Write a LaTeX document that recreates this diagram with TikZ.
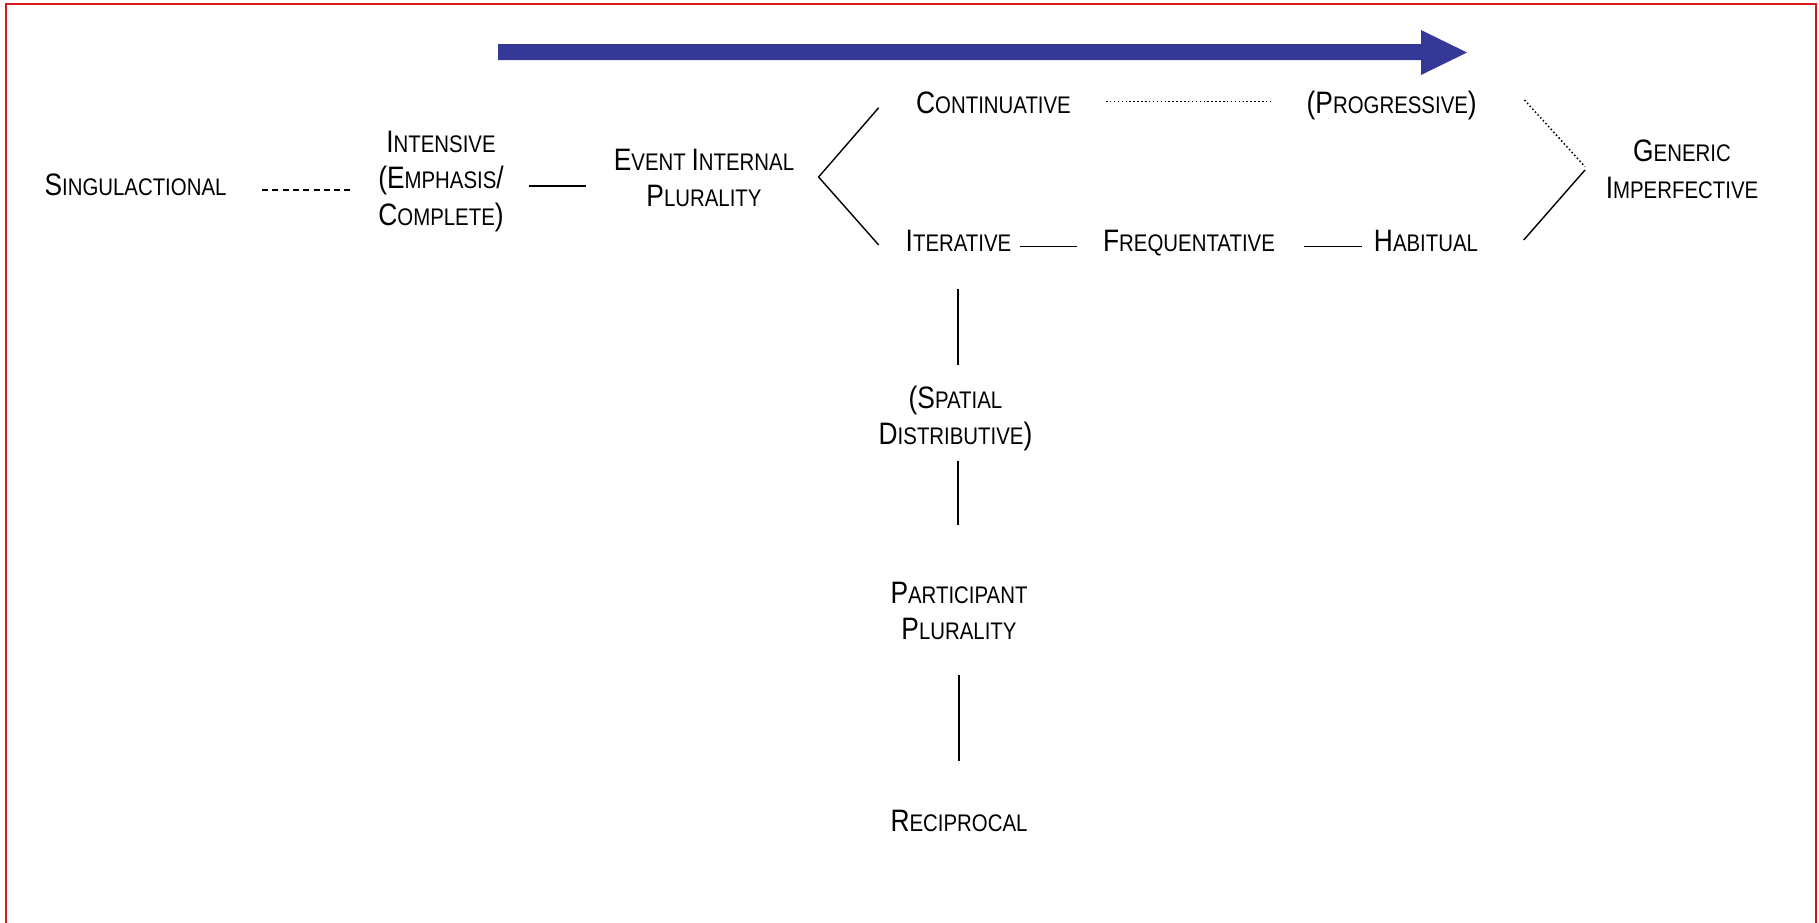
\documentclass[tikz,border=0pt]{standalone}
\usepackage{fontspec}
\newfontfamily\narsans[FakeStretch=0.85]{Liberation Sans}
\definecolor{arrowblue}{RGB}{54,56,152}
\definecolor{framered}{RGB}{215,25,25}
\newcommand\B[1]{{\fontsize{31}{36.5}\selectfont #1}}
\newcommand\ls{\rule[-8pt]{0pt}{34pt}}
\tikzset{
  lbl/.style={inner sep=0pt, outer sep=0pt, anchor=north, align=center,
    font=\narsans\fontsize{24}{36.5}\selectfont},
  conn/.style={line width=1.4pt, line cap=butt},
  dashconn/.style={line width=2.6pt, dash pattern=on 6pt off 4.3pt},
  dotconn/.style={line width=1.5pt, dash pattern=on 1.5pt off 2.4pt}
}
\begin{document}
\begin{tikzpicture}[x=1pt,y=-1pt]
\useasboundingbox (0,0) rectangle (1819,922);
% frame
\draw[framered, line width=2pt] (6,923) -- (6,4) -- (1816,4) -- (1816,923);
% big arrow
\fill[arrowblue] (498,44) -- (1421,44) -- (1421,30) -- (1467,52.5) -- (1421,75) -- (1421,60) -- (498,60) -- cycle;
% nodes (anchor north = first baseline - 26)
\node[lbl] (sing)  at (135.5,169)  {\ls\B{S}INGULACTIONAL};
\node[lbl] (inten) at (441,126)    {\ls\B{I}NTENSIVE\\ \ls\B{(E}MPHASIS\B{/}\\ \ls\B{C}OMPLETE\B{)}};
\node[lbl] (event) at (704,144)    {\ls\B{E}VENT \B{I}NTERNAL\\ \ls\B{P}LURALITY};
\node[lbl] (cont)  at (993.5,87.3) {\ls\B{C}ONTINUATIVE};
\node[lbl] (prog)  at (1391.7,87.3){\ls\B{(P}ROGRESSIVE\B{)}};
\node[lbl] (iter)  at (958.5,225.7){\ls\B{I}TERATIVE};
\node[lbl] (freq)  at (1189,225.7) {\ls\B{F}REQUENTATIVE};
\node[lbl] (habit) at (1426,225.7) {\ls\B{H}ABITUAL};
\node[lbl] (gen)   at (1682,135.7) {\ls\B{G}ENERIC\\ \ls\B{I}MPERFECTIVE};
\node[lbl] (spat)  at (955.5,382)  {\ls\B{(S}PATIAL\\ \ls\B{D}ISTRIBUTIVE\B{)}};
\node[lbl] (part)  at (959,577)    {\ls\B{P}ARTICIPANT\\ \ls\B{P}LURALITY};
\node[lbl] (recip) at (959,805)    {\ls\B{R}ECIPROCAL};
% connectors
\draw[dashconn] ([shift={(126.5,4)}]sing.center) -- ([shift={(-90,10.5)}]inten.center);
\draw[conn] ([shift={(88,6.5)}]inten.center) -- ([shift={(-118,6.75)}]event.center);
\coordinate (vEvent) at ([shift={(114.6,-2.25)}]event.center);
\draw[conn] ([shift={(-114.8,3.4)}]cont.center) -- (vEvent) -- ([shift={(-79.8,2.3)}]iter.center);
\draw[dotconn] ([shift={(112.5,-2.6)}]cont.center) -- ([shift={(-119.7,-2.6)}]prog.center);
\draw[conn] ([shift={(61.5,4)}]iter.center) -- ([shift={(-112,4)}]freq.center);
\draw[conn] ([shift={(115,4)}]freq.center) -- ([shift={(-64,4)}]habit.center);
\draw[dotconn] ([shift={(132.8,-4.3)}]prog.center) -- ([shift={(-97,-4.25)}]gen.center);
\draw[conn] ([shift={(97.7,-2.7)}]habit.center) -- ([shift={(-97,-0.95)}]gen.center);
\draw[conn] ([shift={(-0.5,46)}]iter.center) -- ([shift={(2.5,-52.75)}]spat.center);
\draw[conn] ([shift={(2.5,43.75)}]spat.center) -- ([shift={(-1,-87.25)}]part.center);
\draw[conn] ([shift={(0,62.75)}]part.center) -- ([shift={(0,-61)}]recip.center);
\end{tikzpicture}
\end{document}
